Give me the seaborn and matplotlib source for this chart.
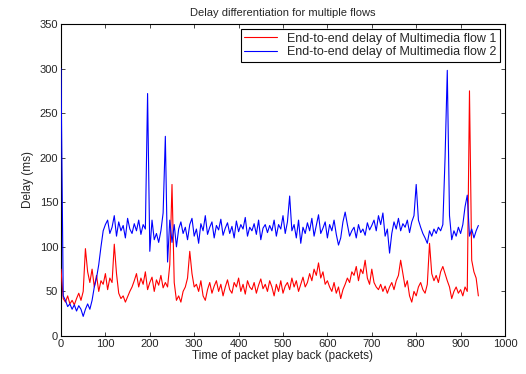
import numpy as np
import pandas as pd
import seaborn as sns
import matplotlib
matplotlib.use("Agg")
import matplotlib.pyplot as plt

# packet index, one reading every 5 packets (0 .. 940)
packets = np.arange(0, 945, 5)

# end-to-end delay (ms) of multimedia flow 1
flow1_delay = [
    75, 42, 38, 45, 36, 40, 35, 42, 48, 40, 50,
    98, 72, 60, 75, 55, 68, 50, 62, 58, 70, 52, 65, 60,
    103, 70, 48, 42, 45, 38, 44, 50, 55,
    62, 70, 55, 65, 58, 72, 52, 60, 66, 50, 63, 57, 68, 54, 60,
    55, 80, 170, 60, 40, 45, 38, 50, 55, 65, 95, 70, 55,
    58, 50, 62, 45, 40, 52, 60, 48, 56, 62, 50, 58, 45, 55, 63, 52, 48,
    60, 55, 65, 50, 58, 47, 62, 55, 52, 60, 48, 57, 64, 53, 58, 50, 62,
    55, 45, 58, 50, 62, 48, 56, 60, 52, 65, 55, 62, 50, 58, 66, 55,
    60, 70, 62, 75, 68, 82, 65, 72, 58, 62,
    55, 50, 60, 48, 55, 42, 52, 58,
    65, 60, 72, 68, 78, 62, 75, 70, 85, 65, 58, 75,
    60, 55, 52, 58, 50, 56, 48, 55, 60, 52,
    62, 68, 85, 70, 55, 62, 45,
    38, 50, 45, 55, 60, 52,
    48, 58, 104, 70, 62, 68, 60, 72, 78, 70, 62, 55, 42, 50, 55, 48,
    52, 45, 55, 50, 275, 85, 72, 65, 45,
]

# end-to-end delay (ms) of multimedia flow 2
flow2_delay = [
    300, 45, 40, 33, 36, 30, 35, 28, 34, 30, 22,
    30, 36, 30, 40, 55, 65, 80, 100, 118, 125,
    130, 115, 122, 135, 112, 128, 118, 124, 110, 132, 120, 115, 126, 118,
    130, 114, 125, 120,
    272, 95, 130, 108, 115, 105, 118, 138, 224, 83, 130, 105, 125, 100, 120,
    128, 115, 122, 108, 125, 132, 112, 120, 104, 126, 118, 135, 114, 122,
    128, 110, 124, 119, 131, 113, 121, 127, 115, 123, 110, 129, 117, 125,
    120, 133, 112, 122, 118, 126, 114, 130, 108, 121, 125, 116, 124,
    118, 130, 112, 125, 120, 135, 115, 128,
    157, 118,
    125, 110, 130, 104, 122, 115, 127, 118, 132, 112, 124, 136, 115, 121,
    128, 110, 125, 118, 130, 114, 102,
    110, 128, 139, 125, 112,
    118, 122, 110, 125, 116, 120, 113, 127, 119, 124,
    130, 118, 135, 125, 138, 112, 120, 93, 115, 128, 120, 132, 118, 126,
    122, 130, 116, 128, 135, 170, 130, 122,
    115, 110, 104, 118, 112, 120, 115, 122, 118, 125, 200, 298, 135, 108,
    118, 112, 122, 115, 125, 145, 158, 112, 120, 110, 118, 124,
]

df = pd.DataFrame({
    "packet": np.concatenate([packets, packets]),
    "delay": flow1_delay + flow2_delay,
    "flow": ["End-to-end delay of Multimedia flow 1"] * len(packets)
            + ["End-to-end delay of Multimedia flow 2"] * len(packets),
})

sns.set_theme(style="white")
plt.rcParams['font.family'] = ['Liberation Sans', 'DejaVu Sans']
plt.rcParams['xtick.direction'] = 'in'
plt.rcParams['ytick.direction'] = 'in'

fig = plt.figure(figsize=(5.26, 3.74), dpi=100)
ax = fig.add_axes([61 / 526, 1 - 336 / 374, 444 / 526, 312 / 374])

sns.lineplot(data=df, x="packet", y="delay", hue="flow",
             palette=["#ff0000", "#0000ff"], linewidth=0.8, ax=ax,
             zorder=3)

ax.set_xlim(0, 1000)
ax.set_ylim(0, 350)
ax.set_xticks(range(0, 1001, 100))
ax.set_yticks(range(0, 351, 50))
ax.tick_params(axis='both', labelsize=8, length=3, width=0.6,
               top=True, right=True, bottom=True, left=True, pad=2)
for s in ax.spines.values():
    s.set_linewidth(0.8)
    s.set_color('black')

ax.set_xlabel("Time of packet play back (packets)", fontsize=8.5, labelpad=1)
ax.set_ylabel("Delay (ms)", fontsize=8.5, labelpad=4)
ax.set_title("Delay differentiation for multiple flows", fontsize=8, pad=6)

leg = ax.legend(loc="upper right", fontsize=9, frameon=True, fancybox=False,
                edgecolor='black', framealpha=1, handlelength=2.6,
                borderaxespad=0.4, borderpad=0.3, labelspacing=0.1)
leg.set_title(None)
leg.set_zorder(5)
leg.get_frame().set_linewidth(0.8)

fig.savefig("out.png", dpi=100)
